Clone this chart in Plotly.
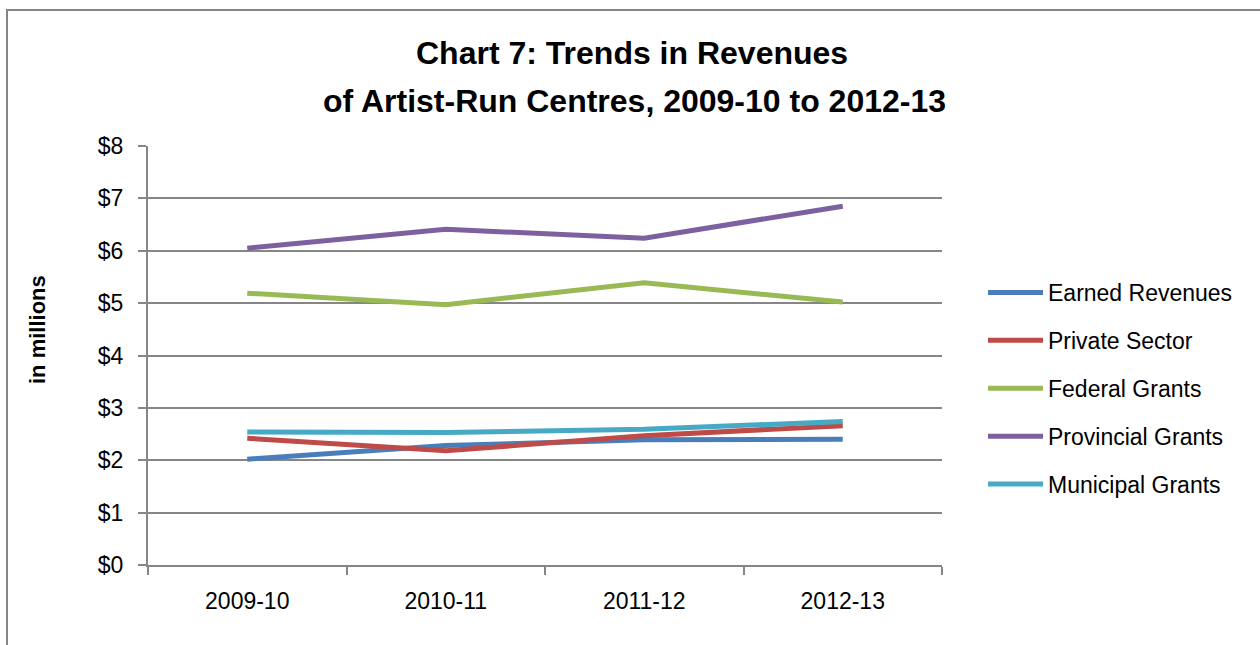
import plotly.graph_objects as go

# Fiscal years on the category axis
years = ["2009-10", "2010-11", "2011-12", "2012-13"]

# Revenues in millions of dollars, by source
earned_revenues = [2.02, 2.28, 2.39, 2.40]
private_sector = [2.42, 2.18, 2.47, 2.66]
federal_grants = [5.19, 4.97, 5.39, 5.02]
provincial_grants = [6.05, 6.41, 6.24, 6.85]
municipal_grants = [2.54, 2.53, 2.59, 2.74]

series_names = ["Earned Revenues", "Private Sector", "Federal Grants",
                "Provincial Grants", "Municipal Grants"]
series_values = [earned_revenues, private_sector, federal_grants,
                 provincial_grants, municipal_grants]
series_colors = ["#4A7EBB", "#BE4B48", "#98B954", "#7D60A0", "#46AAC5"]

y_ticks = [0, 1, 2, 3, 4, 5, 6, 7, 8]
y_tick_labels = ["$" + str(v) for v in y_ticks]

FONT = "Liberation Sans, Arial, sans-serif"
GRID = "#868686"

fig = go.Figure()
for i, (name, vals, col) in enumerate(zip(series_names, series_values, series_colors)):
    fig.add_trace(go.Scatter(
        x=years, y=vals, name=name, mode="lines",
        line=dict(color=col, width=5),
        legendgroup=f"g{i}",
        hoverinfo="x+y+name",
    ))

W, H = 1260, 645
L, R, T, B = 148, 318, 146, 80
pw, ph = W - L - R, H - T - B


def px_x(x):
    return (x - L) / pw


def px_y(y):
    return (H - B - y) / ph


fig.update_layout(
    width=W, height=H,
    margin=dict(l=L, r=R, t=T, b=B, autoexpand=False),
    paper_bgcolor="white", plot_bgcolor="white",
    font=dict(family=FONT, size=23, color="#000000"),
    showlegend=True,
    legend=dict(
        x=px_x(983), y=px_y(271), xanchor="left", yanchor="top",
        font=dict(family=FONT, size=23, color="#000000"),
        tracegroupgap=15, itemwidth=55,
        bgcolor="rgba(0,0,0,0)",
    ),
    xaxis=dict(
        type="category", range=[-0.5, 3.5],
        showgrid=False, showline=True, linecolor=GRID, linewidth=2,
        ticks="outside", tickson="boundaries", ticklen=8, tickwidth=2, tickcolor=GRID,
        ticklabelstandoff=14,
        tickfont=dict(family=FONT, size=23, color="#000000"),
        zeroline=False,
    ),
    yaxis=dict(
        range=[0, 8], tickvals=y_ticks, ticktext=y_tick_labels,
        showgrid=True, gridcolor=GRID, gridwidth=2,
        showline=True, linecolor=GRID, linewidth=2,
        ticks="outside", ticklen=8, tickwidth=2, tickcolor=GRID,
        ticklabelstandoff=10,
        tickfont=dict(family=FONT, size=23, color="#000000"),
        zeroline=False,
    ),
    annotations=[
        dict(text="<b>Chart 7: Trends in Revenues</b>", xref="paper", yref="paper",
             x=px_x(632), y=px_y(53), xanchor="center", yanchor="middle",
             showarrow=False, font=dict(family=FONT, size=32, color="#000000")),
        dict(text="<b>of Artist-Run Centres, 2009-10 to 2012-13</b>", xref="paper", yref="paper",
             x=px_x(634), y=px_y(101), xanchor="center", yanchor="middle",
             showarrow=False, font=dict(family=FONT, size=32, color="#000000")),
        dict(text="<b>in millions</b>", xref="paper", yref="paper",
             x=px_x(37), y=px_y(330), xanchor="center", yanchor="middle",
             textangle=-90, showarrow=False,
             font=dict(family=FONT, size=22, color="#000000")),
    ],
    shapes=[
        dict(type="rect", xref="paper", yref="paper",
             x0=px_x(7), x1=px_x(1300), y0=px_y(700), y1=px_y(10),
             line=dict(color=GRID, width=2), fillcolor="rgba(0,0,0,0)", layer="below"),
    ],
)

fig.write_html("out.html")
